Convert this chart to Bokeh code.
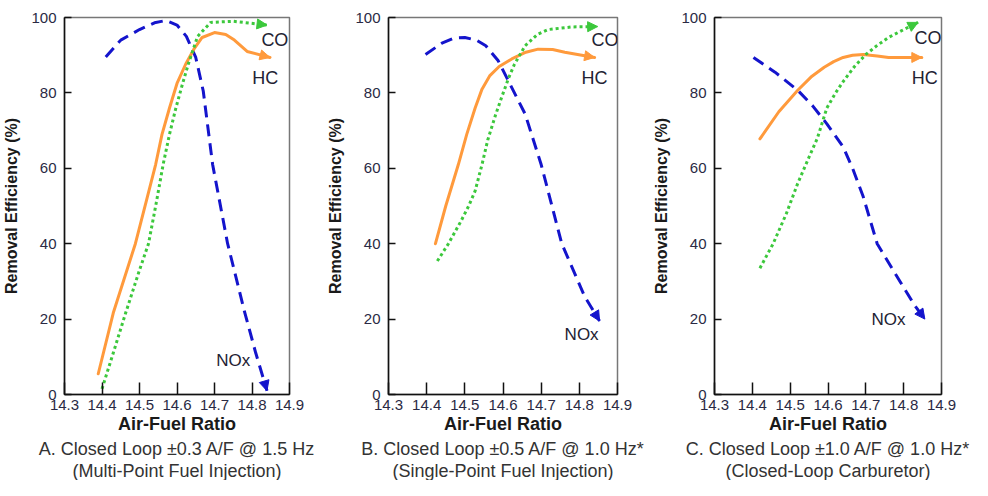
from bokeh.plotting import figure
from bokeh.layouts import row
from bokeh.models import Title, Arrow, NormalHead, FixedTicker, Range1d
from bokeh.core.properties import value
from bokeh.embed import file_html
from bokeh.resources import INLINE

# ---------------- data ----------------
x_ticks = [14.3, 14.4, 14.5, 14.6, 14.7, 14.8, 14.9]
y_ticks = [0, 20, 40, 60, 80, 100]

# Panel A
nox_x_A = [14.41, 14.45, 14.50, 14.54, 14.57, 14.60, 14.625, 14.65, 14.67, 14.695, 14.735, 14.78, 14.81, 14.84]
nox_y_A = [89.5, 94, 96.8, 98.6, 99.2, 98, 95, 89.4, 80.5, 61, 40, 22, 11, 1]
hc_x_A = [14.39, 14.43, 14.489, 14.52, 14.543, 14.56, 14.58, 14.60, 14.623, 14.645, 14.667, 14.70, 14.73, 14.753, 14.787, 14.848]
hc_y_A = [5.5, 21.6, 40, 52, 61, 69, 76, 82.5, 87.6, 91.6, 94.7, 96, 95.5, 94, 91, 89.4]
co_x_A = [14.40, 14.43, 14.463, 14.50, 14.524, 14.545, 14.563, 14.58, 14.597, 14.615, 14.63, 14.655, 14.69, 14.75, 14.84]
co_y_A = [1.5, 11, 21.6, 33, 40, 51, 61, 69, 76, 82.5, 87.6, 95, 98.7, 99, 98]

# Panel B
nox_x_B = [14.397, 14.44, 14.47, 14.50, 14.53, 14.555, 14.587, 14.62, 14.658, 14.70, 14.754, 14.814, 14.853]
nox_y_B = [90.2, 93.2, 94.5, 94.7, 94, 92.5, 88.6, 82, 74.4, 61, 40, 26, 19.5]
hc_x_B = [14.423, 14.45, 14.483, 14.505, 14.527, 14.545, 14.565, 14.59, 14.623, 14.66, 14.692, 14.73, 14.762, 14.84]
hc_y_B = [40, 50, 61, 69, 76, 81, 84.5, 87, 89, 90.8, 91.6, 91.5, 90.8, 89.4]
co_x_B = [14.428, 14.457, 14.49, 14.51, 14.527, 14.545, 14.56, 14.58, 14.597, 14.615, 14.63, 14.658, 14.69, 14.718, 14.78, 14.848]
co_y_B = [35.4, 40, 46, 50, 54, 61, 67.5, 74, 79, 84, 87.6, 92.5, 95.5, 96.8, 97.5, 97.6]

# Panel C
nox_x_C = [14.403, 14.46, 14.52, 14.56, 14.597, 14.64, 14.665, 14.693, 14.73, 14.778, 14.83, 14.856]
nox_y_C = [89.4, 85.5, 80.7, 76.5, 71.8, 65.7, 60, 52.5, 40, 32, 23.5, 20]
hc_x_C = [14.42, 14.47, 14.52, 14.555, 14.59, 14.615, 14.64, 14.665, 14.693, 14.73, 14.76, 14.848]
hc_y_C = [67.8, 75, 80.7, 84.2, 86.8, 88.3, 89.4, 90, 90.2, 89.8, 89.4, 89.4]
co_x_C = [14.42, 14.455, 14.49, 14.52, 14.55, 14.572, 14.597, 14.62, 14.64, 14.67, 14.70, 14.73, 14.76, 14.80, 14.838]
co_y_C = [33.5, 40, 48, 56, 63, 68, 76, 80, 83, 87, 90.2, 92.6, 94.7, 96.8, 98.7]

series_names = ["NOx", "HC", "CO"]
subtitles_A = ["A. Closed Loop \u00b10.3 A/F @ 1.5 Hz", "(Multi-Point Fuel Injection)"]
subtitles_B = ["B. Closed Loop \u00b10.5 A/F @ 1.0 Hz*", "(Single-Point Fuel Injection)"]
subtitles_C = ["C. Closed Loop \u00b11.0 A/F @ 1.0 Hz*", "(Closed-Loop Carburetor)"]

# ---------------- styling / layout ----------------
FONT = "Liberation Sans"
COLORS = {"NOx": "#1414cc", "HC": "#ff9a3c", "CO": "#3cc83c"}
DASH = {"NOx": "12 7", "HC": "solid", "CO": "3 3"}
LABEL_SIZE = {"NOx": "17px", "HC": "18px", "CO": "18px"}
label_pos = {
    "A": {"CO": (14.861, 94), "HC": (14.835, 84), "NOx": (14.75, 9)},
    "B": {"CO": (14.867, 94), "HC": (14.84, 84), "NOx": (14.806, 16)},
    "C": {"CO": (14.864, 94.5), "HC": (14.856, 84), "NOx": (14.76, 20)},
}
borders = {"A": (57, 35), "B": (61, 33), "C": (59, 33)}


def make_panel(key, data, subtitles):
    bl, br = borders[key]
    p = figure(width=bl + 232 + br, height=480, output_backend="svg",
               toolbar_location=None, x_range=Range1d(14.3, 14.9),
               y_range=Range1d(0, 100),
               min_border_left=bl, min_border_right=br,
               min_border_top=17, min_border_bottom=0)
    p.xgrid.visible = False
    p.ygrid.visible = False
    p.outline_line_color = "#777777"
    p.outline_line_width = 1.5
    p.background_fill_color = "white"
    p.border_fill_color = "white"

    p.xaxis.ticker = FixedTicker(ticks=x_ticks)
    p.yaxis.ticker = FixedTicker(ticks=y_ticks)
    p.xaxis.formatter.use_scientific = False
    for ax in (p.xaxis[0], p.yaxis[0]):
        ax.axis_line_color = "#111111"
        ax.axis_line_width = 1.5
        ax.major_tick_line_color = "#111111"
        ax.major_tick_line_width = 1.5
        ax.minor_tick_line_color = None
        ax.major_tick_out = 0
        ax.major_label_text_font = FONT
        ax.major_label_text_color = "#2a2a44"
        ax.axis_label_text_font = FONT
        ax.axis_label_text_font_style = "bold"
        ax.axis_label_text_color = "#1a1a1a"
    p.xaxis.major_tick_in = 12
    p.yaxis.major_tick_in = 7
    p.xaxis.major_label_text_font_size = "15px"
    p.yaxis.major_label_text_font_size = "15px"
    p.xaxis.major_label_standoff = 5
    p.yaxis.major_label_standoff = 8
    p.xaxis.axis_label = "Air-Fuel Ratio"
    p.yaxis.axis_label = "Removal Efficiency (%)"
    p.xaxis.axis_label_text_font_size = "18px"
    p.yaxis.axis_label_text_font_size = "16px"
    p.xaxis.axis_label_standoff = 1
    p.yaxis.axis_label_standoff = 8

    for name in series_names:
        xs, ys = data[name]
        c = COLORS[name]
        p.line(xs, ys, line_color=c, line_width=3, line_dash=DASH[name],
               line_cap="butt" if name != "HC" else "round", line_join="round")
        p.add_layout(Arrow(end=NormalHead(size=10, fill_color=c, line_color=c, line_width=1),
                           x_start=xs[-2], y_start=ys[-2], x_end=xs[-1], y_end=ys[-1],
                           line_alpha=0))
        lx, ly = label_pos[key][name]
        p.text([lx], [ly], text=[name], text_font=value(FONT), text_font_size=LABEL_SIZE[name],
               text_color="#222233", text_align="center", text_baseline="middle")

    t1 = Title(text=subtitles[0], align="center", text_font=FONT, text_font_size="18px",
               text_font_style="normal", text_color="#333333", standoff=0)
    t2 = Title(text=subtitles[1], align="center", text_font=FONT, text_font_size="18px",
               text_font_style="normal", text_color="#333333", standoff=0)
    p.add_layout(t1, "below")
    p.add_layout(t2, "below")
    return p


pA = make_panel("A", {"NOx": (nox_x_A, nox_y_A), "HC": (hc_x_A, hc_y_A), "CO": (co_x_A, co_y_A)}, subtitles_A)
pB = make_panel("B", {"NOx": (nox_x_B, nox_y_B), "HC": (hc_x_B, hc_y_B), "CO": (co_x_B, co_y_B)}, subtitles_B)
pC = make_panel("C", {"NOx": (nox_x_C, nox_y_C), "HC": (hc_x_C, hc_y_C), "CO": (co_x_C, co_y_C)}, subtitles_C)

layout = row(pA, pB, pC, spacing=0)
open("out.html", "w").write(file_html(layout, INLINE))
